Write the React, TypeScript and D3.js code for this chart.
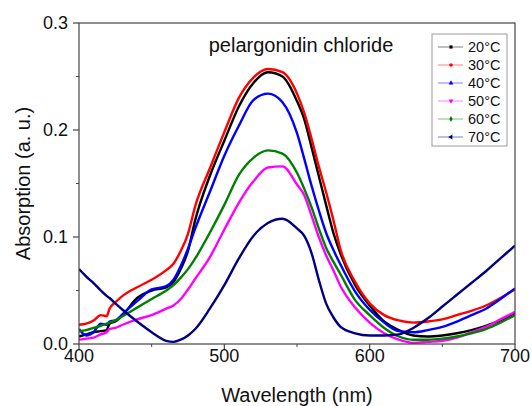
import React from "react";
import * as d3 from "d3";

// wavelength grid (nm) shared by all spectra
const wavelengths = [
  400, 405, 410, 415, 419, 421, 425, 430, 440, 450, 460, 465, 470, 475, 480,
  490, 500, 510, 520, 530, 540, 550, 555, 560, 565, 570, 575, 580, 590, 600,
  610, 620, 630, 640, 650, 660, 670, 680, 690, 700,
];

const abs20 = [
  0.007, 0.009, 0.011, 0.012, 0.013, 0.019, 0.021, 0.027, 0.043, 0.05, 0.053,
  0.058, 0.07, 0.087, 0.116, 0.157, 0.19, 0.222, 0.244, 0.254, 0.25, 0.227,
  0.21, 0.184, 0.157, 0.13, 0.104, 0.084, 0.055, 0.036, 0.021, 0.013, 0.008,
  0.007, 0.008, 0.01, 0.013, 0.017, 0.022, 0.029,
];
const abs30 = [
  0.018, 0.019, 0.022, 0.027, 0.026, 0.033, 0.039, 0.045, 0.053, 0.06, 0.069,
  0.075, 0.087, 0.103, 0.129, 0.164, 0.198, 0.23, 0.249, 0.257, 0.254, 0.234,
  0.216, 0.192, 0.166, 0.142, 0.116, 0.088, 0.058, 0.038, 0.027, 0.022, 0.02,
  0.021, 0.023, 0.027, 0.031, 0.036, 0.043, 0.051,
];
const abs40 = [
  0.014, 0.008, 0.011, 0.019, 0.018, 0.021, 0.022, 0.028, 0.04, 0.051, 0.054,
  0.06, 0.073, 0.089, 0.108, 0.142, 0.176, 0.204, 0.228, 0.234, 0.226, 0.197,
  0.173, 0.148, 0.125, 0.104, 0.088, 0.074, 0.049, 0.032, 0.02, 0.012, 0.011,
  0.013, 0.016, 0.021, 0.027, 0.033, 0.042, 0.052,
];
const abs50 = [
  0.004, 0.005, 0.006, 0.009, 0.011, 0.014, 0.015, 0.018, 0.023, 0.027, 0.033,
  0.036, 0.042, 0.051, 0.061, 0.081, 0.107, 0.132, 0.152, 0.165, 0.166, 0.149,
  0.139, 0.12, 0.1, 0.083, 0.069, 0.054, 0.034, 0.02, 0.01, 0.004, 0.001,
  0.002, 0.003, 0.006, 0.011, 0.016, 0.023, 0.03,
];
const abs60 = [
  0.012, 0.013, 0.015, 0.017, 0.019, 0.02, 0.022, 0.026, 0.034, 0.042, 0.05,
  0.055, 0.062, 0.07, 0.08, 0.104, 0.13, 0.158, 0.174, 0.181, 0.178, 0.16,
  0.145, 0.128, 0.108, 0.09, 0.077, 0.065, 0.041, 0.027, 0.015, 0.007, 0.004,
  0.004, 0.005, 0.007, 0.01, 0.014, 0.02, 0.027,
];
const abs70 = [
  0.07, 0.063, 0.057, 0.05, 0.045, 0.043, 0.038, 0.032, 0.021, 0.011, 0.003,
  0.002, 0.004, 0.008, 0.014, 0.033, 0.055, 0.08, 0.101, 0.113, 0.117, 0.108,
  0.101, 0.085, 0.06, 0.038, 0.025, 0.016, 0.01, 0.008, 0.008, 0.009, 0.015,
  0.024, 0.035, 0.046, 0.057, 0.068, 0.08, 0.092,
];

const seriesLabels = ["20°C", "30°C", "40°C", "50°C", "60°C", "70°C"];
const seriesValues = [abs20, abs30, abs40, abs50, abs60, abs70];
const seriesColors = ["#000000", "#ff0000", "#0000ff", "#ff00ff", "#008000", "#000080"];
const markerTypes = [
  d3.symbolSquare,
  d3.symbolCircle,
  d3.symbolTriangle,
  d3.symbolTriangle,
  d3.symbolDiamond,
  d3.symbolTriangle,
];
const markerRotate = [0, 0, 0, 180, 0, -90];

const xTicks = [400, 500, 600, 700];
const xMinor = [450, 550, 650];
const yTicks = [0, 0.1, 0.2, 0.3];
const yMinor = [0.05, 0.15, 0.25];

const WIDTH = 532;
const HEIGHT = 406;
const margin = { top: 23, right: 17, bottom: 62, left: 79 };
const font = "Arial, 'Liberation Sans', sans-serif";

export default function App() {
  const x = d3
    .scaleLinear()
    .domain([400, 700])
    .range([margin.left, WIDTH - margin.right]);
  const y = d3
    .scaleLinear()
    .domain([0, 0.3])
    .range([HEIGHT - margin.bottom, margin.top]);

  const line = d3
    .line<number>()
    .x((_, i) => x(wavelengths[i]))
    .y((d) => y(d))
    .curve(d3.curveMonotoneX);

  const [x0, x1] = x.range();
  const [y0, y1] = y.range();

  const legendX = 432;
  const legendY = 34;
  const rowH = 18;

  return (
    <>
      <style>{`body{margin:0}`}</style>
      <svg width={WIDTH} height={HEIGHT} style={{ display: "block", background: "#fff" }} fontFamily={font}>
        <defs>
          <clipPath id="plot">
            <rect x={x0} y={y1} width={x1 - x0} height={y0 - y1} />
          </clipPath>
        </defs>

        <g clipPath="url(#plot)">
          {seriesValues.map((vals, i) => (
            <path
              key={seriesLabels[i]}
              d={line(vals) || ""}
              fill="none"
              stroke={seriesColors[i]}
              strokeWidth={2.4}
              strokeLinejoin="round"
            />
          ))}
        </g>

        {/* frame */}
        <rect x={x0} y={y1} width={x1 - x0} height={y0 - y1} fill="none" stroke="#444" strokeWidth={1.2} />

        {/* y axis */}
        {yTicks.map((t) => (
          <g key={t}>
            <line x1={x0 - 6} x2={x0} y1={y(t)} y2={y(t)} stroke="#444" strokeWidth={1.2} />
            <text x={x0 - 11} y={y(t)} dy="0.35em" textAnchor="end" fontSize={18} fill="#111">
              {t.toFixed(1)}
            </text>
          </g>
        ))}
        {yMinor.map((t) => (
          <line key={t} x1={x0 - 3} x2={x0} y1={y(t)} y2={y(t)} stroke="#444" strokeWidth={1} />
        ))}

        {/* x axis */}
        {xTicks.map((t) => (
          <g key={t}>
            <line x1={x(t)} x2={x(t)} y1={y0} y2={y0 + 6} stroke="#444" strokeWidth={1.2} />
            <text x={x(t)} y={y0 + 18} textAnchor="middle" fontSize={18} fill="#111">
              {t}
            </text>
          </g>
        ))}
        {xMinor.map((t) => (
          <line key={t} x1={x(t)} x2={x(t)} y1={y0} y2={y0 + 3} stroke="#444" strokeWidth={1} />
        ))}

        <text x={(x0 + x1) / 2} y={402} textAnchor="middle" fontSize={20} fill="#111">
          Wavelength (nm)
        </text>
        <text
          transform={`translate(30, ${(y0 + y1) / 2}) rotate(-90)`}
          textAnchor="middle"
          fontSize={20}
          fill="#111"
        >
          Absorption (a. u.)
        </text>

        <text x={301} y={52} textAnchor="middle" fontSize={20} fill="#111">
          pelargonidin chloride
        </text>

        {/* legend */}
        <rect x={legendX} y={legendY} width={75} height={112} fill="#fff" stroke="#999" strokeWidth={1} />
        {seriesLabels.map((label, i) => {
          const cy = legendY + 13 + i * rowH;
          const sym = d3.symbol().type(markerTypes[i]).size(10)();
          return (
            <g key={label}>
              <line x1={legendX + 6} x2={legendX + 31} y1={cy} y2={cy} stroke={seriesColors[i]} strokeOpacity={0.5} strokeWidth={1} />
              <path d={sym || ""} transform={`translate(${legendX + 19}, ${cy}) rotate(${markerRotate[i]})`} fill={seriesColors[i]} />
              <text x={legendX + 36} y={cy} dy="0.35em" fontSize={14.5} fill="#111">
                {label}
              </text>
            </g>
          );
        })}
      </svg>
    </>
  );
}
